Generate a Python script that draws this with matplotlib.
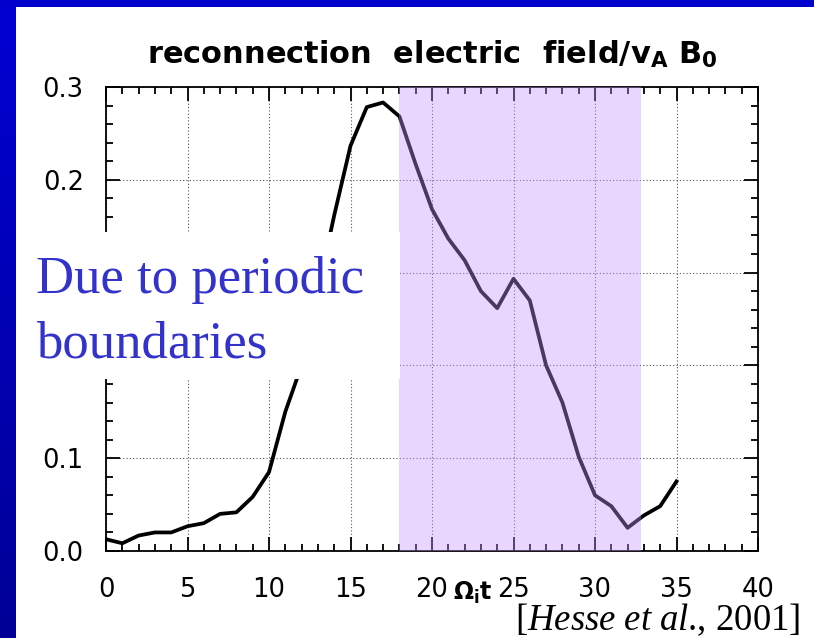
import numpy as np
import matplotlib
matplotlib.use("Agg")
import matplotlib.pyplot as plt
from matplotlib.patches import Rectangle
from matplotlib.ticker import MultipleLocator, FixedLocator, FixedFormatter

plt.rcParams['font.family'] = ['DejaVu Sans']
plt.rcParams['mathtext.fontset'] = 'custom'
plt.rcParams['mathtext.rm'] = 'Liberation Serif'
plt.rcParams['mathtext.it'] = 'Liberation Serif:italic'
plt.rcParams['mathtext.bf'] = 'DejaVu Sans:bold'

# reconnection electric field vs time (Omega_i t)
time = list(range(36))
e_rec = [0.0076, 0.005, 0.010, 0.012, 0.012, 0.016, 0.018, 0.024, 0.025, 0.035,
         0.051, 0.090, 0.120, 0.168, 0.217, 0.262, 0.287, 0.290, 0.281, 0.250,
         0.221, 0.202, 0.188, 0.168, 0.157, 0.176, 0.162, 0.120, 0.096, 0.061,
         0.036, 0.029, 0.015, 0.023, 0.029, 0.045]

# y ticks every 0.06, labelled to one decimal (middle two sit under the label box)
y_ticks = [0.0, 0.06, 0.12, 0.18, 0.24, 0.30]
y_labels = ['0.0', '0.1', '', '', '0.2', '0.3']

# interval affected by the periodic boundaries
shade_start = 18.0
shade_end = 32.8

W, H = 814, 638
fig = plt.figure(figsize=(W/100, H/100), dpi=100)
fig.patch.set_facecolor('white')

ax = fig.add_axes([106/W, (H-551)/H, 652/W, 464/H])
ax.plot(time, e_rec, color='black', lw=2.7, zorder=3, solid_joinstyle='round')
ax.axvspan(shade_start, shade_end, color=(0.78, 0.58, 1.0), alpha=0.38, lw=0, zorder=10)

ax.set_xlim(0, 40)
ax.set_ylim(0, 0.3)
ax.xaxis.set_major_locator(MultipleLocator(5))
ax.xaxis.set_minor_locator(MultipleLocator(1))
ax.yaxis.set_major_locator(FixedLocator(y_ticks))
ax.yaxis.set_major_formatter(FixedFormatter(y_labels))
ax.yaxis.set_minor_locator(MultipleLocator(0.012))
ax.tick_params(which='both', direction='in', top=True, right=True, width=1.3, labelsize=18.5)
ax.tick_params(which='major', length=10)
ax.tick_params(which='minor', length=5)
ax.tick_params(axis='x', pad=19)
ax.tick_params(axis='y', pad=16)
for s in ax.spines.values():
    s.set_linewidth(1.3)
ax.grid(True, which='major', color='#555555', lw=0.8, linestyle=(0, (1, 2)))

ax.set_title(r'reconnection  electric  field/v$_\mathbf{A}$ B$_\mathbf{0}$',
             fontsize=22, fontweight='bold', pad=17)
ax.set_xlabel(r'$\mathbf{\Omega_i t}$', fontsize=17)
ax.xaxis.label.set_va('baseline')
ax.xaxis.set_label_coords(0.562, -0.106)

# slide frame
fig.add_artist(Rectangle((0, (H-7)/H), 1, 7/H, transform=fig.transFigure,
                         color='#0000CC', lw=0, zorder=20))
band = fig.add_axes([0, 0, 16/W, (H-7)/H], zorder=20)
grad = np.linspace(0, 1, 256).reshape(-1, 1)
cmap = matplotlib.colors.LinearSegmentedColormap.from_list('frame', ['#0000D2', '#000096'])
band.imshow(grad, aspect='auto', cmap=cmap)
band.axis('off')

# white label box
fig.add_artist(Rectangle((16/W, (H-379)/H), (400-16)/W, (379-232)/H,
                         transform=fig.transFigure, facecolor='white',
                         edgecolor='none', zorder=15))
fig.text(36/W, (H-293)/H, 'Due to periodic', family='Liberation Serif',
         fontsize=38, color='#3333CC', va='baseline', zorder=16)
fig.text(36/W, (H-357)/H, 'boundaries', family='Liberation Serif',
         fontsize=38, color='#3333CC', va='baseline', zorder=16)

fig.text(800/W, (H-630)/H, r'[$\mathit{Hesse\ et\ al}$., 2001]',
         family='Liberation Serif', fontsize=26.5, color='black',
         ha='right', va='baseline', zorder=16)

fig.savefig('out.png', dpi=100)
